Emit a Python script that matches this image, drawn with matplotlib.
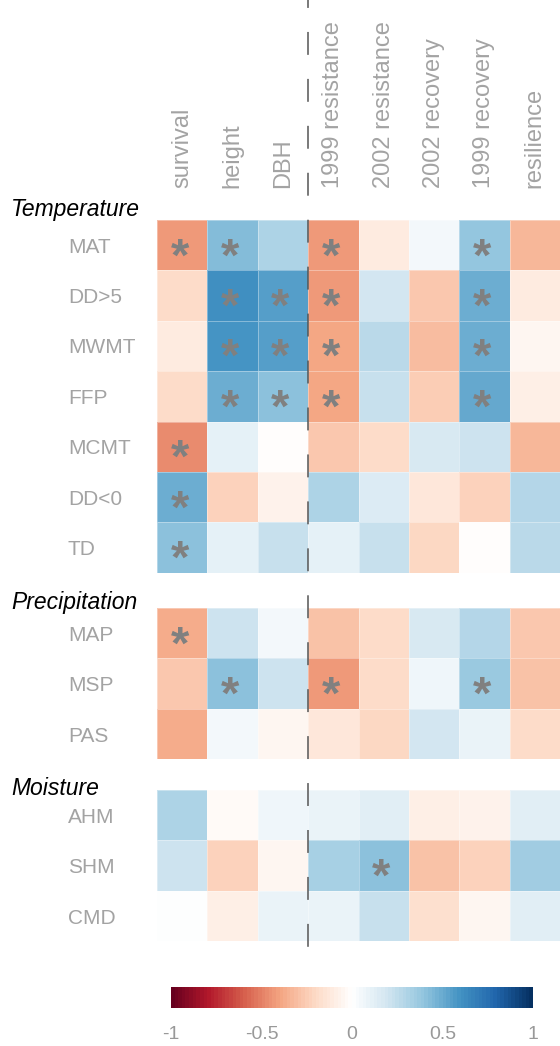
import matplotlib
matplotlib.use("Agg")
import matplotlib.pyplot as plt
import numpy as np
from matplotlib.lines import Line2D
from matplotlib.colors import LinearSegmentedColormap

plt.rcParams['font.family'] = ['Liberation Sans', 'DejaVu Sans']
plt.rcParams['lines.scale_dashes'] = False

columns = ['survival', 'height', 'DBH', '1999 resistance', '2002 resistance',
           '2002 recovery', '1999 recovery', 'resilience']

group_names = ['Temperature', 'Precipitation', 'Moisture']

temp_rows = ['MAT', 'DD>5', 'MWMT', 'FFP', 'MCMT', 'DD<0', 'TD']
temp_vals = [
    [-0.44, 0.42, 0.30, -0.44, -0.12, 0.04, 0.39, -0.33],
    [-0.20, 0.60, 0.54, -0.44, 0.19, -0.28, 0.48, -0.12],
    [-0.12, 0.59, 0.55, -0.40, 0.26, -0.32, 0.48, -0.05],
    [-0.20, 0.48, 0.40, -0.40, 0.23, -0.26, 0.50, -0.10],
    [-0.47, 0.10, -0.02, -0.27, -0.19, 0.17, 0.20, -0.33],
    [0.48, -0.24, -0.08, 0.30, 0.15, -0.14, -0.24, 0.28],
    [0.40, 0.10, 0.23, 0.11, 0.23, -0.22, -0.02, 0.26],
]
temp_sig = [
    [1, 1, 0, 1, 0, 0, 1, 0],
    [0, 1, 1, 1, 0, 0, 1, 0],
    [0, 1, 1, 1, 0, 0, 1, 0],
    [0, 1, 1, 1, 0, 0, 1, 0],
    [1, 0, 0, 0, 0, 0, 0, 0],
    [1, 0, 0, 0, 0, 0, 0, 0],
    [1, 0, 0, 0, 0, 0, 0, 0],
]

prec_rows = ['MAP', 'MSP', 'PAS']
prec_vals = [
    [-0.38, 0.20, 0.05, -0.30, -0.20, 0.17, 0.29, -0.28],
    [-0.27, 0.40, 0.21, -0.44, -0.20, 0.07, 0.37, -0.30],
    [-0.38, 0.04, -0.06, -0.14, -0.21, 0.19, 0.08, -0.20],
]
prec_sig = [
    [1, 0, 0, 0, 0, 0, 0, 0],
    [0, 1, 0, 1, 0, 0, 1, 0],
    [0, 0, 0, 0, 0, 0, 0, 0],
]

moist_rows = ['AHM', 'SHM', 'CMD']
moist_vals = [
    [0.30, -0.04, 0.07, 0.08, 0.12, -0.10, -0.07, 0.12],
    [0.20, -0.23, -0.05, 0.32, 0.41, -0.30, -0.23, 0.34],
    [0.01, -0.09, 0.08, 0.08, 0.22, -0.17, -0.05, 0.13],
]
moist_sig = [
    [0, 0, 0, 0, 0, 0, 0, 0],
    [0, 0, 0, 0, 1, 0, 0, 0],
    [0, 0, 0, 0, 0, 0, 0, 0],
]

cbar_ticks = [-1, -0.5, 0, 0.5, 1]
cbar_labels = ['-1', '-0.5', '0', '0.5', '1']

palette = ["#67001F", "#B2182B", "#D6604D", "#F4A582", "#FDDBC7", "#FFFFFF",
           "#D1E5F0", "#92C5DE", "#4393C3", "#2166AC", "#053061"]

W, H = 560, 1046
fig = plt.figure(figsize=(W / 100, H / 100), dpi=100)


def fx(px):
    return px / W


def fy(py):
    return 1 - py / H


cmap = LinearSegmentedColormap.from_list('corrRdBu', palette, N=100)
label_gray = '#a3a3a3'
left_px, right_px = 157, 560
row_h = 50.4

groups = [
    (temp_rows, temp_vals, temp_sig, 220),
    (prec_rows, prec_vals, prec_sig, 608),
    (moist_rows, moist_vals, moist_sig, 790),
]
group_label_y = [216, 609, 795]

mesh = None
for gi, (rows, vals, sig, top) in enumerate(groups):
    n = len(rows)
    h = n * row_h
    ax = fig.add_axes([fx(left_px), fy(top + h), fx(right_px - left_px), h / H])
    arr = np.array(vals)
    mesh = ax.pcolormesh(np.arange(len(columns) + 1), np.arange(n + 1), arr,
                         cmap=cmap, vmin=-1, vmax=1,
                         edgecolor=(1, 1, 1, 0.35), linewidth=0.4)
    ax.set_xlim(0, len(columns))
    ax.set_ylim(n, 0)
    for s in ax.spines.values():
        s.set_visible(False)
    ax.set_yticks(np.arange(n) + 0.5)
    ax.set_yticklabels(rows, fontsize=15, color=label_gray, ha='left')
    ax.tick_params(axis='y', length=0, pad=(left_px - 68) * 0.72)
    if gi == 0:
        ax.xaxis.tick_top()
        ax.set_xticks(np.arange(len(columns)) + 0.5)
        ax.set_xticklabels(columns, rotation=90, fontsize=17, color=label_gray,
                           va='bottom', ha='center')
        ax.tick_params(axis='x', length=0, pad=(top - 188) * 0.72)
    else:
        ax.set_xticks([])
    for r in range(n):
        for c in range(len(columns)):
            if sig[r][c]:
                ax.text(c + 0.45, r + 0.76, '*', ha='center', va='center',
                        fontsize=34, color='#808080', fontweight='bold',
                        family='Liberation Sans', transform=ax.transData)
    fig.text(fx(11), fy(group_label_y[gi]), group_names[gi], fontsize=16.5,
             style='italic', color='black', va='baseline', ha='left')

# dashed separator between growth traits and drought response
sep_x = fx(left_px + 3 * (right_px - left_px) / len(columns))
fig.add_artist(Line2D([sep_x, sep_x], [fy(0), fy(950)], transform=fig.transFigure,
                      color='#555555', linewidth=1.1,
                      linestyle=(10.8, (16.5, 17.3))))

cax = fig.add_axes([fx(171), fy(1008), fx(533 - 171), 21 / H])
cb = fig.colorbar(mesh, cax=cax, orientation='horizontal', ticks=cbar_ticks)
cb.outline.set_visible(False)
cax.set_xticklabels(cbar_labels)
cax.tick_params(length=0, pad=13, labelsize=14, labelcolor='#999999')

fig.savefig('out.png', dpi=100)
